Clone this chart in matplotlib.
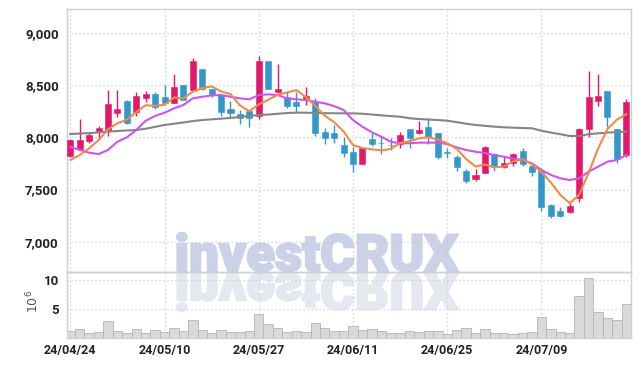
import matplotlib
matplotlib.use("Agg")
import matplotlib.pyplot as plt
from matplotlib.textpath import TextPath
from matplotlib.patches import PathPatch
from matplotlib.font_manager import FontProperties
from matplotlib.transforms import Affine2D
import numpy as np

# ---------------- data ----------------
dates = ["24/04/24", "24/04/25", "24/04/26", "24/04/29", "24/04/30", "24/05/02", "24/05/03",
         "24/05/07", "24/05/08", "24/05/09", "24/05/10", "24/05/13", "24/05/14", "24/05/16",
         "24/05/17", "24/05/20", "24/05/21", "24/05/22", "24/05/23", "24/05/24", "24/05/27",
         "24/05/28", "24/05/29", "24/05/30", "24/05/31", "24/06/03", "24/06/04", "24/06/05",
         "24/06/07", "24/06/10", "24/06/11", "24/06/12", "24/06/13", "24/06/14", "24/06/17",
         "24/06/18", "24/06/19", "24/06/20", "24/06/21", "24/06/24", "24/06/25", "24/06/26",
         "24/06/27", "24/06/28", "24/07/01", "24/07/02", "24/07/03", "24/07/04", "24/07/05",
         "24/07/08", "24/07/09", "24/07/10", "24/07/11", "24/07/12", "24/07/15", "24/07/16",
         "24/07/17", "24/07/18", "24/07/19", "24/07/22"]

opens = [7821, 7891, 7967, 8063, 8063, 8235, 8347, 8242, 8379, 8414,
         8382, 8331, 8500, 8452, 8653, 8459, 8404, 8270, 8223, 8251,
         8207, 8729, 8436, 8382, 8340, 8366, 8335, 8054, 8041, 7926,
         7862, 7742, 7981, 7948, 7930, 7933, 8079, 8044, 8096, 8038,
         7862, 7809, 7678, 7601, 7662, 7837, 7719, 7751, 7872, 7726,
         7678, 7353, 7295, 7289, 7423, 8079, 8344, 8443, 8079, 7831]
highs = [7980, 8175, 8048, 8108, 8452, 8452, 8360, 8436, 8440, 8436,
         8500, 8605, 8500, 8755, 8653, 8459, 8404, 8347, 8261, 8261,
         8780, 8729, 8698, 8436, 8436, 8484, 8379, 8086, 8118, 8000,
         7910, 7901, 8038, 8006, 7990, 8054, 8079, 8159, 8182, 8038,
         7895, 7831, 7694, 7694, 7917, 7853, 7809, 7847, 7895, 7757,
         7694, 7362, 7337, 7384, 8092, 8637, 8605, 8443, 8079, 8363]
lows = [7810, 7879, 7943, 7984, 8012, 8197, 8130, 8204, 8340, 8273,
        8309, 8325, 8357, 8452, 8452, 8382, 8207, 8197, 8127, 8096,
        8175, 8465, 8436, 8277, 8245, 8309, 8015, 7933, 7943, 7815,
        7671, 7742, 7917, 7837, 7879, 7901, 7895, 8029, 7936, 7796,
        7800, 7678, 7560, 7585, 7656, 7681, 7710, 7726, 7726, 7630,
        7295, 7226, 7235, 7279, 7384, 8000, 8302, 8101, 7757, 7815]
closes = [7975, 7974, 8022, 8089, 8318, 8270, 8140, 8395, 8414, 8287,
          8325, 8484, 8357, 8729, 8459, 8404, 8245, 8229, 8187, 8187,
          8729, 8465, 8462, 8302, 8302, 8395, 8038, 7996, 7996, 7853,
          7742, 7901, 7933, 7945, 7925, 8022, 7990, 8070, 8000, 7815,
          7847, 7719, 7585, 7640, 7910, 7713, 7751, 7837, 7742, 7671,
          7337, 7250, 7250, 7343, 8076, 8382, 8398, 8197, 7790, 8340]

ma5 = [7783, 7831, 7895, 7974, 8076, 8135, 8168, 8242, 8307, 8301,
       8312, 8381, 8373, 8436, 8471, 8487, 8439, 8413, 8305, 8250,
       8315, 8359, 8406, 8429, 8452, 8385, 8300, 8207, 8145, 8056,
       7925, 7898, 7885, 7875, 7889, 7945, 7963, 7990, 8001, 7979,
       7944, 7890, 7793, 7721, 7740, 7713, 7720, 7770, 7791, 7743,
       7668, 7567, 7450, 7370, 7451, 7660, 7890, 8079, 8169, 8221]
ma20 = [7910, 7879, 7853, 7840, 7879, 7958, 8000, 8070, 8159, 8204,
        8235, 8277, 8309, 8373, 8388, 8401, 8404, 8388, 8373, 8363,
        8404, 8411, 8404, 8373, 8363, 8357, 8340, 8325, 8299, 8261,
        8165, 8101, 8048, 8006, 7958, 7943, 7943, 7949, 7949, 7949,
        7935, 7904, 7879, 7862, 7850, 7830, 7815, 7795, 7783, 7751,
        7688, 7640, 7608, 7592, 7608, 7671, 7719, 7767, 7783, 7831]
ma60 = [8032, 8036, 8040, 8047, 8054, 8060, 8066, 8070, 8082, 8100,
        8118, 8130, 8142, 8155, 8165, 8172, 8178, 8185, 8195, 8205,
        8213, 8218, 8225, 8232, 8236, 8235, 8233, 8231, 8230, 8229,
        8229, 8225, 8218, 8210, 8203, 8197, 8182, 8175, 8170, 8165,
        8159, 8145, 8130, 8118, 8110, 8102, 8096, 8092, 8089, 8086,
        8063, 8045, 8030, 8013, 8013, 8030, 8038, 8045, 8050, 8054]

volume_m = [1.13, 1.48, 0.72, 0.96, 2.87, 1.13, 0.72, 1.42, 0.72, 1.25,
            0.96, 1.60, 1.13, 3.04, 1.30, 0.72, 1.25, 0.96, 0.96, 1.13,
            4.09, 2.35, 1.60, 0.96, 1.13, 0.96, 2.46, 1.60, 1.19, 1.13,
            2.00, 1.30, 1.48, 1.13, 0.72, 0.72, 1.13, 0.96, 1.13, 1.13,
            0.55, 1.30, 1.60, 0.72, 1.42, 0.72, 0.72, 0.55, 0.72, 0.96,
            3.51, 1.42, 0.96, 0.72, 7.22, 10.3, 4.38, 3.34, 2.99, 5.83]

price_ticks = [7000, 7500, 8000, 8500, 9000]
price_tick_labels = ["7,000", "7,500", "8,000", "8,500", "9,000"]
vol_ticks = [5, 10]
vol_tick_labels = ["5", "10"]
date_tick_idx = [0, 10, 20, 30, 40, 50]

# ---------------- style ----------------
UP = "#e2186b"
DOWN = "#3497c9"
C_MA5 = "#f08a4b"
C_MA20 = "#cc55ee"
C_MA60 = "#858585"
GRID = "#c9cbdc"
SPINE = "#cfcfcf"
TXT = "#222222"
tick_font = ["Roboto", "DejaVu Sans"]

W, H = 639, 366
fig = plt.figure(figsize=(W / 100, H / 100), dpi=100)
fig.patch.set_facecolor("white")

L, R = 67 / W, 631 / W
ax = fig.add_axes([L, 1 - 272 / H, R - L, (272 - 9) / H])
axv = fig.add_axes([L, 1 - 337.5 / H, R - L, (337.5 - 272) / H], sharex=ax)
for a in (ax, axv):
    a.set_facecolor("none")
    for s in a.spines.values():
        s.set_color(SPINE)
        s.set_linewidth(1.0)
    a.tick_params(length=0, colors=TXT)
    a.grid(True, color=GRID, linestyle=(0, (1, 2.2)), linewidth=0.9)
    a.set_axisbelow(True)

x = np.arange(len(closes))
o = np.array(opens); c = np.array(closes)
hi = np.array(highs); lo = np.array(lows)
colors = [UP if cc >= oo else DOWN for oo, cc in zip(o, c)]
body_lo = np.minimum(o, c)
body_h = np.maximum(np.abs(c - o), 5)

ax.vlines(x, lo, hi, colors=colors, linewidth=1.0, zorder=3)
ax.bar(x, body_h, bottom=body_lo, width=0.64, color=colors, edgecolor=colors,
       linewidth=0.4, zorder=4)
ax.plot(x, ma60, color=C_MA60, linewidth=1.5, zorder=5)
ax.plot(x, ma20, color=C_MA20, linewidth=1.5, zorder=5)
ax.plot(x, ma5, color=C_MA5, linewidth=1.5, zorder=6)

ax.set_xlim(-0.35, len(closes) - 0.5)
ax.set_ylim(6712, 9227)
ax.set_yticks(price_ticks)
ax.set_yticklabels(price_tick_labels)
ax.set_xticks(date_tick_idx)
ax.tick_params(axis="x", labelbottom=False)
ax.tick_params(axis="y", pad=6)
for lab in ax.get_yticklabels():
    lab.set_fontfamily(tick_font)
    lab.set_fontsize(9.5)
    lab.set_fontweight("bold")
    lab.set_color(TXT)

axv.bar(x, volume_m, width=1.0, color="#d9d9d9", edgecolor="#b5b5b5",
        linewidth=0.6, zorder=3)
axv.set_ylim(0, 11.4)
axv.set_yticks(vol_ticks)
axv.set_yticklabels(vol_tick_labels)
axv.set_xticks(date_tick_idx)
axv.set_xticklabels([dates[i] for i in date_tick_idx])
axv.tick_params(axis="y", pad=6)
axv.tick_params(axis="x", pad=5)
for lab in axv.get_yticklabels() + axv.get_xticklabels():
    lab.set_fontfamily(tick_font)
    lab.set_fontsize(9.5)
    lab.set_fontweight("bold")
    lab.set_color(TXT)
for lab in axv.get_xticklabels():
    lab.set_fontsize(9)

fig.text(33 / W, 1 - 301 / H, r"$10^6$", rotation=90, ha="center", va="center",
         fontsize=9, color="#555555")

# ---------------- watermark ----------------
fp = FontProperties(family=["Roboto", "DejaVu Sans"], weight="black")
tp = TextPath((0, 0), "investCRUX", size=100, prop=fp)
ext = tp.get_extents()
target_w = 281.0
s = target_w / ext.width
x0 = 177.0
base = H - 271.0
t_main = Affine2D().translate(-ext.x0, 0).scale(s, s * 0.97).translate(x0, base)
t_refl = Affine2D().translate(-ext.x0, 0).scale(s, -s * 0.97).translate(x0, base - 2)
fig.add_artist(PathPatch(tp, transform=t_refl, facecolor="#e6e8f1", edgecolor="#e6e8f1",
                         linewidth=1.6, zorder=-2))
fig.add_artist(PathPatch(tp, transform=t_main, facecolor="#cbd1e6", edgecolor="#cbd1e6",
                         linewidth=1.6, zorder=-1))

fig.savefig("out.png", dpi=100)
